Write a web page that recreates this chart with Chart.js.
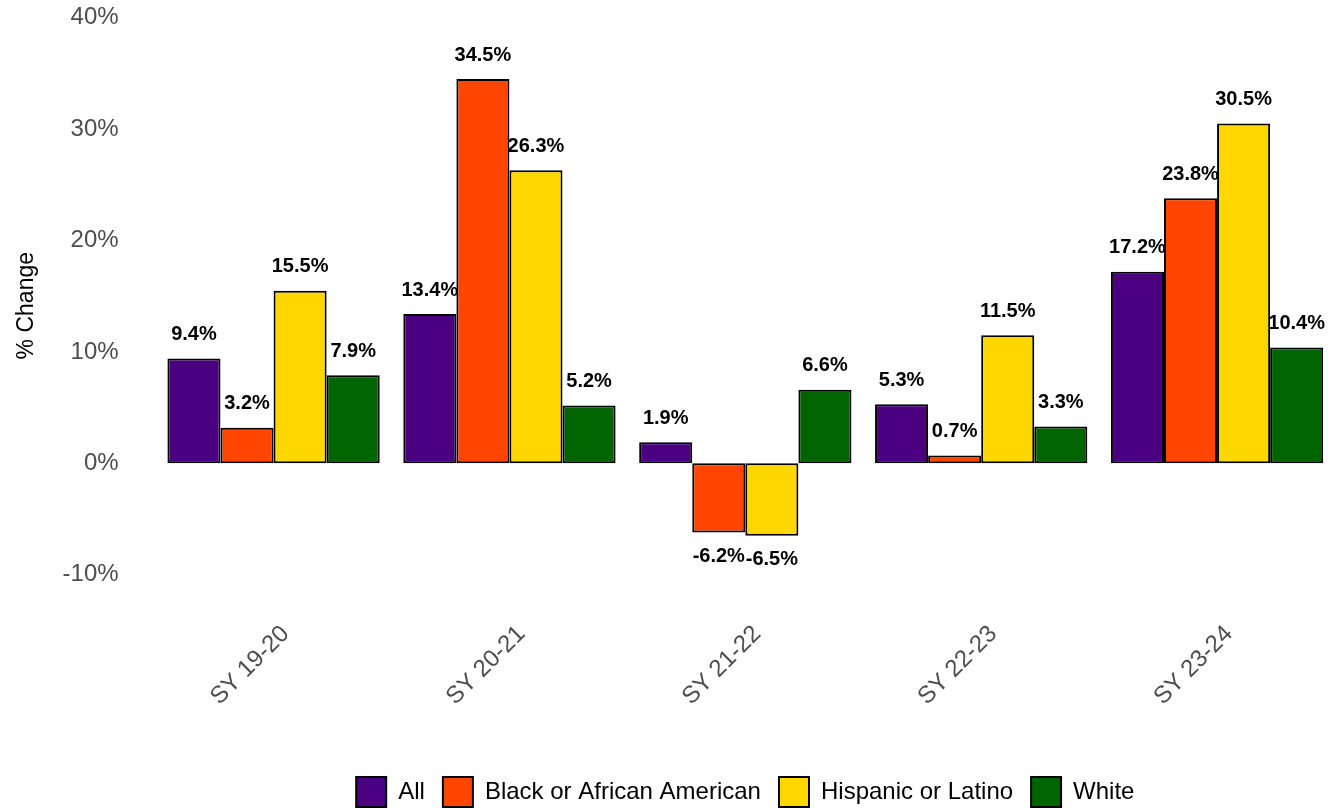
<!DOCTYPE html>
<html>
<head>
<meta charset="utf-8">
<script src="https://cdn.jsdelivr.net/npm/chart.js@4"></script>
<style>
  body { margin: 0; background: #fff; }
  #wrap { width: 1335px; height: 808px; }
</style>
</head>
<body>
<div id="wrap"><canvas id="myChart"></canvas></div>
<script>
var years = ['SY 19-20', 'SY 20-21', 'SY 21-22', 'SY 22-23', 'SY 23-24'];
var groups = ['All', 'Black or African American', 'Hispanic or Latino', 'White'];
var allVals = [9.4, 13.4, 1.9, 5.3, 17.2];
var blackVals = [3.2, 34.5, -6.2, 0.7, 23.8];
var hispanicVals = [15.5, 26.3, -6.5, 11.5, 30.5];
var whiteVals = [7.9, 5.2, 6.6, 3.3, 10.4];
var colors = ['#4B0082', '#FF4500', '#FFD700', '#006400'];

var fontFam = '"Liberation Sans", Arial, sans-serif';

// підписи значень над / під стовпчиками
var valueLabels = {
  id: 'valueLabels',
  afterDatasetsDraw: function (chart) {
    var ctx = chart.ctx;
    ctx.save();
    ctx.font = 'bold 20px ' + fontFam;
    ctx.fillStyle = '#000';
    ctx.textAlign = 'center';
    ctx.textBaseline = 'middle';
    chart.data.datasets.forEach(function (ds, i) {
      var meta = chart.getDatasetMeta(i);
      meta.data.forEach(function (bar, j) {
        var v = ds.data[j];
        var y = v >= 0 ? bar.y - 24 : bar.y + 24;
        ctx.fillText(v.toFixed(1) + '%', bar.x, y);
      });
    });
    ctx.restore();
  }
};

var data = [allVals, blackVals, hispanicVals, whiteVals];

var ctx = document.getElementById('myChart').getContext('2d');
var chart = new Chart(ctx, {
  type: 'bar',
  data: {
    labels: years,
    datasets: groups.map(function (g, i) {
      return {
        label: g,
        data: data[i],
        backgroundColor: colors[i],
        borderColor: '#000',
        borderWidth: 2,
        borderSkipped: false,
        categoryPercentage: 0.9,
        barPercentage: 1.0
      };
    })
  },
  options: {
    responsive: true,
    maintainAspectRatio: false,
    animation: false,
    layout: { padding: { left: 6, right: 0, top: 0, bottom: -9 } },
    plugins: {
      tooltip: { enabled: false },
      legend: {
        position: 'bottom',
        fullSize: false,
        labels: {
          boxWidth: 30,
          boxHeight: 30,
          padding: 18,
          color: '#000',
          font: { size: 24, family: fontFam }
        }
      }
    },
    scales: {
      x: {
        grid: { display: false },
        border: { display: false },
        afterFit: function (scale) { scale.height = 162; },
        ticks: {
          color: '#4d4d4d',
          font: { size: 24, family: fontFam },
          minRotation: 45,
          maxRotation: 45,
          labelOffset: 12,
          padding: 15
        }
      },
      y: {
        min: -12,
        max: 40.3,
        grid: { display: false, tickLength: 37 },
        border: { display: false },
        ticks: {
          stepSize: 10,
          includeBounds: false,
          color: '#4d4d4d',
          padding: 0,
          font: { size: 24, family: fontFam },
          callback: function (v) { return v + '%'; }
        },
        title: {
          display: true,
          text: '% Change',
          color: '#000',
          padding: { top: 7, bottom: 22 },
          font: { size: 23, family: fontFam }
        }
      }
    }
  },
  plugins: [valueLabels]
});
</script>
</body>
</html>
